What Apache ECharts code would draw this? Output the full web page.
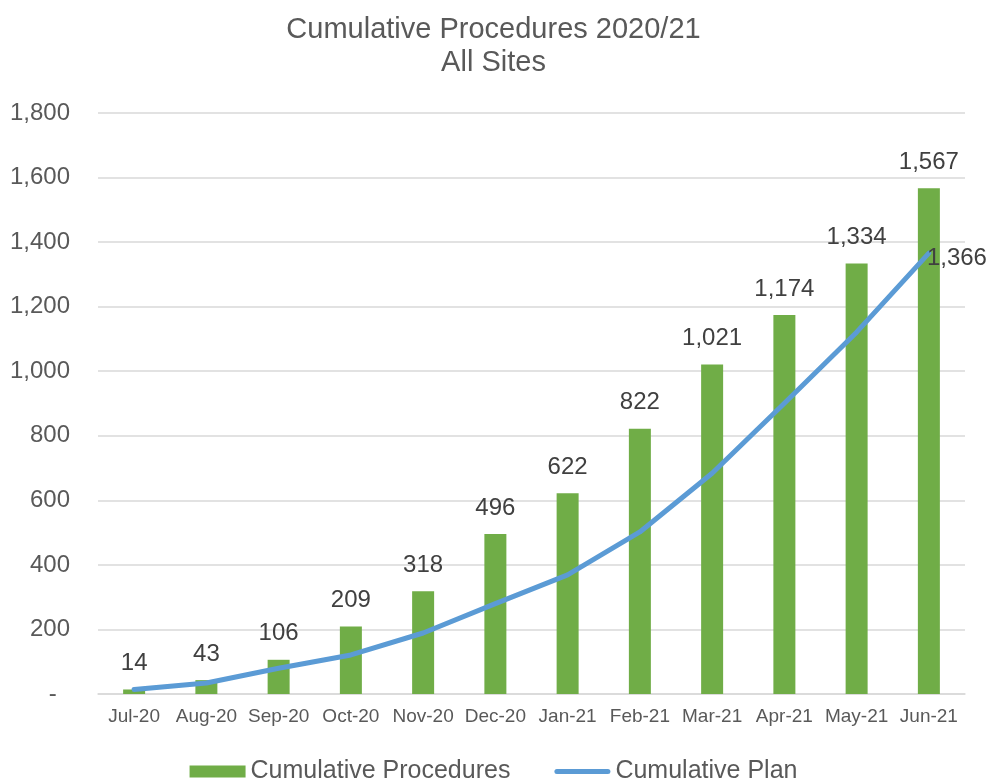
<!DOCTYPE html>
<html>
<head>
<meta charset="utf-8">
<script src="https://cdn.jsdelivr.net/npm/echarts@6/dist/echarts.min.js"></script>
<style>
  html, body { margin: 0; padding: 0; background: #ffffff; }
  #chart { width: 987px; height: 781px; }
</style>
</head>
<body>
<div id="chart"></div>
<script>
// Month categories for the 2020/21 year
const months = ['Jul-20', 'Aug-20', 'Sep-20', 'Oct-20', 'Nov-20', 'Dec-20',
                'Jan-21', 'Feb-21', 'Mar-21', 'Apr-21', 'May-21', 'Jun-21'];
// Cumulative procedures performed (bars)
const cumulativeProcedures = [14, 43, 106, 209, 318, 496, 622, 822, 1021, 1174, 1334, 1567];
// Cumulative plan (line)
const cumulativePlan = [14, 34, 80, 121, 189, 280, 369, 502, 684, 901, 1121, 1366];
// Value axis ticks
const yTicks = [0, 200, 400, 600, 800, 1000, 1200, 1400, 1600, 1800];

const FONT = '"Liberation Sans", Arial, sans-serif';
const fmt = v => v.toLocaleString('en-US');

// Thick round-capped stroke used as the plan's legend key
const LINE_ICON = 'path://M2.5,0 L53.5,0 A2.5,2.5 0 0 1 53.5,5 L2.5,5 A2.5,2.5 0 0 1 2.5,0 Z';

const chart = echarts.init(document.getElementById('chart'), null, { renderer: 'canvas' });

chart.setOption({
  animation: false,
  backgroundColor: '#ffffff',
  textStyle: { fontFamily: FONT },
  title: {
    text: 'Cumulative Procedures 2020/21\nAll Sites',
    left: 'center',
    top: 8,
    textStyle: {
      fontFamily: FONT,
      fontSize: 29,
      fontWeight: 'normal',
      color: '#595959',
      lineHeight: 33
    }
  },
  legend: {
    top: 754,
    left: 'center',
    itemWidth: 56,
    itemHeight: 12,
    itemGap: 44,
    textStyle: { fontFamily: FONT, fontSize: 25, color: '#595959' },
    data: [
      { name: 'Cumulative Procedures', icon: 'rect' },
      { name: 'Cumulative Plan', icon: LINE_ICON }
    ]
  },
  grid: { left: 98, right: 22, top: 113, bottom: 87, containLabel: false },
  xAxis: {
    type: 'category',
    data: months,
    axisLine: { lineStyle: { color: '#d9d9d9', width: 1.5 } },
    axisTick: { show: false },
    axisLabel: {
      fontFamily: FONT,
      fontSize: 19,
      color: '#595959',
      margin: 13,
      interval: 0
    }
  },
  yAxis: {
    type: 'value',
    min: yTicks[0],
    max: yTicks[yTicks.length - 1],
    interval: yTicks[1] - yTicks[0],
    axisLine: { show: false },
    axisTick: { show: false },
    splitLine: { lineStyle: { color: '#d9d9d9', width: 1.5 } },
    axisLabel: {
      fontFamily: FONT,
      fontSize: 24,
      color: '#595959',
      margin: 28,
      formatter: v => (v === 0 ? '-  ' : fmt(v))
    }
  },
  series: [
    {
      name: 'Cumulative Procedures',
      type: 'bar',
      data: cumulativeProcedures,
      barWidth: 22,
      itemStyle: { color: '#70AD47' },
      label: {
        show: true,
        position: 'top',
        distance: 14,
        fontFamily: FONT,
        fontSize: 24,
        color: '#404040',
        formatter: p => fmt(p.value)
      },
      z: 2
    },
    {
      name: 'Cumulative Plan',
      type: 'line',
      data: cumulativePlan.map((v, i) => i === cumulativePlan.length - 1
        ? { value: v, label: { show: true } }
        : v),
      symbol: 'circle',
      symbolSize: 0,
      showSymbol: true,
      smooth: false,
      lineStyle: { color: '#5B9BD5', width: 5, cap: 'round', join: 'round' },
      itemStyle: { color: '#5B9BD5' },
      label: {
        show: false,
        position: 'right',
        distance: 0,
        offset: [-2, 5],
        fontFamily: FONT,
        fontSize: 24,
        color: '#404040',
        formatter: p => fmt(p.value)
      },
      z: 3
    }
  ]
});
</script>
</body>
</html>
